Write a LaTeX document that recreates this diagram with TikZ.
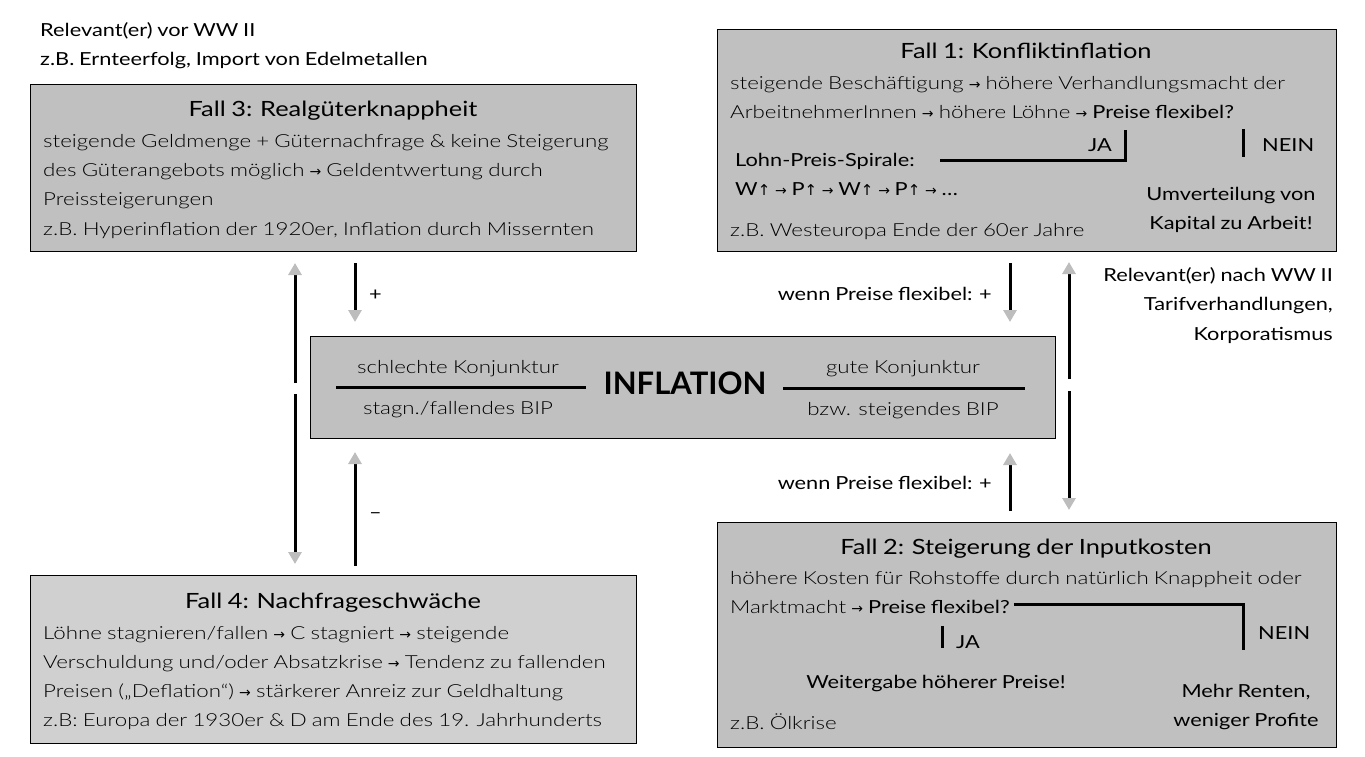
\documentclass[tikz,border=0pt]{standalone}
\usepackage{fontspec}
\setmainfont{Lato}[FakeStretch=1.21,WordSpace=0.85]
\newfontfamily\rg{Lato}[FakeStretch=1.21,WordSpace=0.85]
\newfontfamily\lt{Lato Light}[FakeStretch=1.24,WordSpace=0.85]
\newfontfamily\sym{DejaVu Sans}
\usetikzlibrary{arrows.meta,calc}
\definecolor{boxgray}{HTML}{C0C0C0}
\definecolor{boxlight}{HTML}{D0D0D0}
\definecolor{headgray}{HTML}{BDBDBD}
\newcommand\ra{\space{\sym\fontsize{14}{14}\selectfont →}\space}
\newcommand\ua{{\sym\fontsize{15}{15}\selectfont ↑}}
\tikzset{
  box/.style={draw=black, line width=1pt, inner sep=0pt},
  body/.style={inner sep=0pt, anchor=base west, font=\lt\fontsize{18}{18}\selectfont},
  emph/.style={inner sep=0pt, font=\rg\fontsize{18}{18}\selectfont},
  ttl/.style={inner sep=0pt, anchor=base, font=\rg\fontsize{21}{21}\selectfont},
  arr/.style={line width=3pt, -{Triangle[length=12pt,width=13pt,color=headgray]}},
  brl/.style={line width=3pt},
}
\begin{document}
\begin{tikzpicture}[x=1pt,y=-1pt]
\useasboundingbox (0,0) rectangle (1365,756);
% boxes
\node[box, fill=boxgray, minimum width=606pt, minimum height=167pt] (f3) at (333,167.5) {};
\node[box, fill=boxgray, minimum width=619pt, minimum height=222pt] (f1) at (1026.5,140) {};
\node[box, fill=boxgray, minimum width=745pt, minimum height=102pt] (inf) at (682.5,387) {};
\node[box, fill=boxgray, minimum width=619pt, minimum height=225pt] (f2) at (1026.5,634.5) {};
\node[box, fill=boxlight, minimum width=606pt, minimum height=168pt] (f4) at (333,659) {};

% top-left notes
\node[emph, anchor=base west] (n1) at (40,36) {Relevant(er) vor WW II};
\node[emph, anchor=base west] (n2) at (40,65) {z.B. Ernteerfolg, Import von Edelmetallen};

% Fall 3
\node[ttl] (f3t) at (333,116) {Fall 3: Realgüterknappheit};
\node[body] (f3a) at (43,147) {steigende Geldmenge + Güternachfrage \& keine Steigerung};
\node[body] (f3b) at (43,176) {des Güterangebots möglich\ra Geldentwertung durch};
\node[body] (f3c) at (43,205) {Preissteigerungen};
\node[body] (f3d) at (43,235) {z.B. Hyperinflation der 1920er, Inflation durch Missernten};

% Fall 1
\node[ttl] (f1t) at (1026,58) {Fall 1: Konfliktinflation};
\node[body] (f1a) at (730,89) {steigende Beschäftigung\ra höhere Verhandlungsmacht der};
\node[body] (f1b) at (730,118) {ArbeitnehmerInnen\ra höhere Löhne\ra{\rg Preise flexibel?}};
\node[emph, anchor=base east] (ja1) at (1112,151) {JA};
\node[emph, anchor=base west] (nein1) at (1262,151) {NEIN};
\node[emph, anchor=base west] (lps) at (735,166) {Lohn-Preis-Spirale:};
\node[emph, anchor=base west] (wp) at (735,195) {W\ua\ra P\ua\ra W\ua\ra P\ua\ra …};
\node[emph, anchor=base] (uv1) at (1231,200) {Umverteilung von};
\node[emph, anchor=base] (uv2) at (1231,229) {Kapital zu Arbeit!};
\node[body] (f1c) at (730,236) {z.B. Westeuropa Ende der 60er Jahre};
\coordinate (ja1top) at (1125,130);
\coordinate (ja1corner) at (1125,160);
\coordinate (ja1end) at (940,160);
\draw[brl] (ja1top) -- (ja1corner) -- (ja1end);
\coordinate (nein1top) at (1243,129);
\coordinate (nein1bot) at (1243,157);
\draw[brl] (nein1top) -- (nein1bot);

% Fall 2
\node[ttl] (f2t) at (1026,554) {Fall 2: Steigerung der Inputkosten};
\node[body] (f2a) at (730,584) {höhere Kosten für Rohstoffe durch natürlich Knappheit oder};
\node[body] (f2b) at (730,613) {Marktmacht\ra{\rg Preise flexibel?}};
\node[emph, anchor=base west] (ja2) at (956,648) {JA};
\node[emph, anchor=base west] (nein2) at (1258,639) {NEIN};
\node[emph, anchor=base] (wg) at (936,688) {Weitergabe höherer Preise!};
\node[emph, anchor=base] (mr1) at (1246,697) {Mehr Renten,};
\node[emph, anchor=base] (mr2) at (1246,726) {weniger Profite};
\node[body] (f2c) at (730,729) {z.B. Ölkrise};
\coordinate (f2s) at ([xshift=4pt,yshift=-3pt]f2b.east);
\coordinate (f2corner) at (1243,604);
\coordinate (f2end) at (1243,650);
\draw[brl] (f2s |- f2corner) -- (f2corner) -- (f2end);
\coordinate (ja2top) at (942,626);
\coordinate (ja2bot) at (942,648);
\draw[brl] (ja2top) -- (ja2bot);

% Fall 4
\node[ttl] (f4t) at (333,608) {Fall 4: Nachfrageschwäche};
\node[body] (f4a) at (43,639) {Löhne stagnieren/fallen\ra C stagniert\ra steigende};
\node[body] (f4b) at (43,668) {Verschuldung und/oder Absatzkrise\ra Tendenz zu fallenden};
\node[body] (f4c) at (43,697) {Preisen („Deflation“)\ra stärkerer Anreiz zur Geldhaltung};
\node[body] (f4d) at (43,726) {z.B: Europa der 1930er \& D am Ende des 19. Jahrhunderts};

% Inflation
\node[inner sep=0pt, font=\fontspec{Lato}\bfseries\fontsize{31}{31}\selectfont] (infl) at (685,383) {INFLATION};
\node[body, anchor=base] (sk) at (458,373) {schlechte Konjunktur};
\node[body, anchor=base] (sb) at (458,414) {stagn./fallendes BIP};
\node[body, anchor=base] (gk) at (903,373) {gute Konjunktur};
\node[body, anchor=base] (gb) at (903,415) {bzw. steigendes BIP};
\coordinate (l1a) at (336,387); \coordinate (l1b) at (586,387);
\coordinate (l2a) at (783,388); \coordinate (l2b) at (1025,388);
\draw[brl] (l1a) -- (l1b);
\draw[brl] (l2a) -- (l2b);

% right notes
\node[emph, anchor=base east] (r1) at (1333,281) {Relevant(er) nach WW II};
\node[emph, anchor=base east] (r2) at (1333,310) {Tarifverhandlungen,};
\node[emph, anchor=base east] (r3) at (1333,340) {Korporatismus};
\node[emph, anchor=base east] (w1) at (992,300) {wenn Preise flexibel: +};
\node[emph, anchor=base east] (w2) at (992,489) {wenn Preise flexibel: +};
\node[emph, anchor=base west] (plus) at (369,300) {+};
\node[emph, anchor=base west] (minus) at (369,518) {–};

% arrows
\coordinate (a1s) at (295,383); \coordinate (a1e) at (295,263);
\coordinate (a2s) at (295,394); \coordinate (a2e) at (295,564);
\draw[arr] (a1s) -- (a1e);
\draw[arr] (a2s) -- (a2e);
\coordinate (a3s) at (355,263); \coordinate (a3e) at (355,322);
\draw[arr] (a3s) -- (a3e);
\coordinate (a4s) at (355,566); \coordinate (a4e) at (355,452);
\draw[arr] (a4s) -- (a4e);
\coordinate (a5s) at (1010,263); \coordinate (a5e) at (1010,322);
\draw[arr] (a5s) -- (a5e);
\coordinate (a6s) at (1010,511); \coordinate (a6e) at (1010,453);
\draw[arr] (a6s) -- (a6e);
\coordinate (a7s) at (1069,379); \coordinate (a7e) at (1069,262);
\draw[arr] (a7s) -- (a7e);
\coordinate (a8s) at (1069,391); \coordinate (a8e) at (1069,510);
\draw[arr] (a8s) -- (a8e);
\end{tikzpicture}
\end{document}
